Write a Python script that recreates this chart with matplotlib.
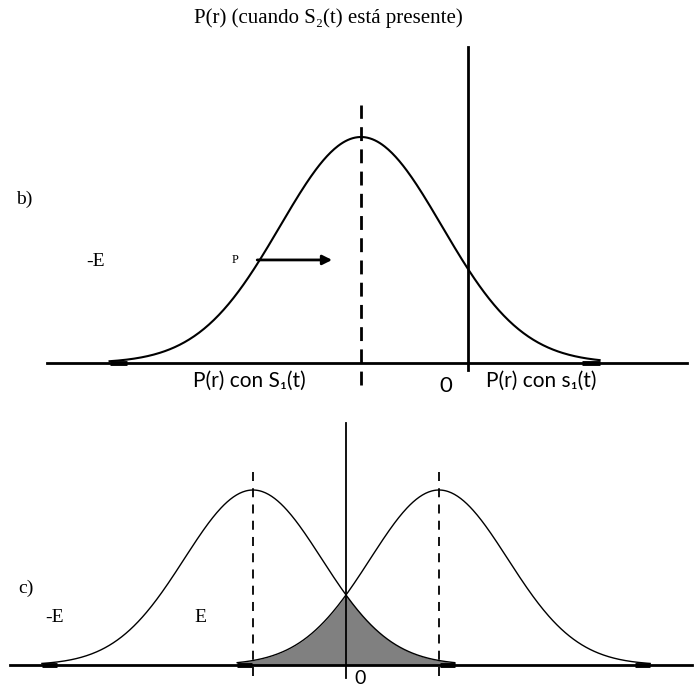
import numpy as np
import matplotlib
matplotlib.use('Agg')
from matplotlib import pyplot as plt

# gaussian shapes, in units of E (means) and peak-normalised height
b_mean = -1.0
b_sigma = 0.755
b_span = (-3.35, 1.23)

c_means = [-1.0, 1.0]
c_sigma = 0.739
c_spans = [(-3.27, 1.17), (-1.17, 3.27)]

title = 'P(r) (cuando S\u2082(t) está presente)'
b_labels = ['P(r) con S\u2081(t)', '0', 'P(r) con s\u2081(t)']
c_labels = ['-E', 'E', '0']

W, H = 694, 690
serif = ['Liberation Serif', 'DejaVu Serif']
sans = ['Lato', 'DejaVu Sans']


def gauss(x, mu, sigma):
    return np.exp(-(x - mu) ** 2 / (2 * sigma ** 2))


def panel(fig, top, bottom, x0, xscale, y0, yscale):
    # axes spanning the figure width, data units mapped from pixel rows
    ax = fig.add_axes([0, 1 - bottom / H, 1, (bottom - top) / H])
    ax.set_xlim(-x0 / xscale, (W - x0) / xscale)
    ax.set_ylim((y0 - bottom) / yscale, (y0 - top) / yscale)
    ax.axis('off')
    return ax


def curve(ax, mu, sigma, span, lw, foot=0.16):
    x = np.linspace(span[0], span[1], 400)
    ax.plot(x, gauss(x, mu, sigma), color='black', lw=lw)
    # short heavy segments where the tails meet the axis
    ax.plot([span[0], span[0] + foot], [0, 0], color='black', lw=3.5,
            solid_capstyle='butt')
    ax.plot([span[1] - foot, span[1]], [0, 0], color='black', lw=3.5,
            solid_capstyle='butt')


fig = plt.figure(figsize=(W / 100, H / 100), dpi=100)
fig.text(328 / W, 1 - 18 / H, title, family=serif, fontsize=15,
         ha='center', va='center')

# b) single distribution shifted left of the threshold
axb = panel(fig, 30, 400, 468, 107, 363, 226)
axb.plot([-3.93, 2.05], [0, 0], color='black', lw=2)
curve(axb, b_mean, b_sigma, b_span, lw=1.5)
axb.plot([0, 0], [-0.031, 1.398], color='black', lw=2)
axb.plot([b_mean, b_mean], [-0.097, 1.142], color='black', lw=2,
         linestyle=(0, (5, 3)))
axb.annotate('', xy=(-1.27, 0.456), xytext=(-1.97, 0.456),
             arrowprops=dict(arrowstyle='-|>', color='black', lw=2,
                             mutation_scale=14, shrinkA=0, shrinkB=0))
axb.text(-2.18, 0.456, 'P', family=serif, fontsize=9, ha='center', va='center')
axb.text(-3.48, 0.447, '-E', family=serif, fontsize=14, ha='center', va='center')
axb.text(-4.15, 0.726, 'b)', family=serif, fontsize=14, ha='center', va='center')
axb.text(-2.04, -0.08, b_labels[0], family=sans, fontsize=15,
         ha='center', va='center')
axb.text(-0.206, -0.1, b_labels[1], family=sans, fontsize=16,
         ha='center', va='center')
axb.text(0.68, -0.08, b_labels[2], family=sans, fontsize=15,
         ha='center', va='center')

# c) two overlapping distributions, overlap shaded
axc = panel(fig, 410, 690, 346, 93, 665, 175)
xs = np.linspace(c_spans[1][0], c_spans[0][1], 400)
overlap = np.minimum(gauss(xs, c_means[0], c_sigma), gauss(xs, c_means[1], c_sigma))
axc.fill_between(xs, 0, overlap, color='#808080', lw=0)
axc.plot([-3.61, 3.72], [0, 0], color='black', lw=2)
for mu, span in zip(c_means, c_spans):
    curve(axc, mu, c_sigma, span, lw=1.0)
    axc.plot([mu, mu], [-0.063, 1.103], color='black', lw=1.3,
             linestyle=(0, (5, 4)))
axc.plot([0, 0], [-0.074, 1.383], color='black', lw=1.3)
axc.text(-3.44, 0.44, 'c)', family=serif, fontsize=14, ha='center', va='center')
axc.text(-3.13, 0.274, c_labels[0], family=serif, fontsize=14,
         ha='center', va='center')
axc.text(-1.57, 0.274, c_labels[1], family=serif, fontsize=14,
         ha='center', va='center')
axc.text(0.15, -0.08, c_labels[2], family=sans, fontsize=14,
         ha='center', va='center')

fig.savefig('out.png', dpi=100)
